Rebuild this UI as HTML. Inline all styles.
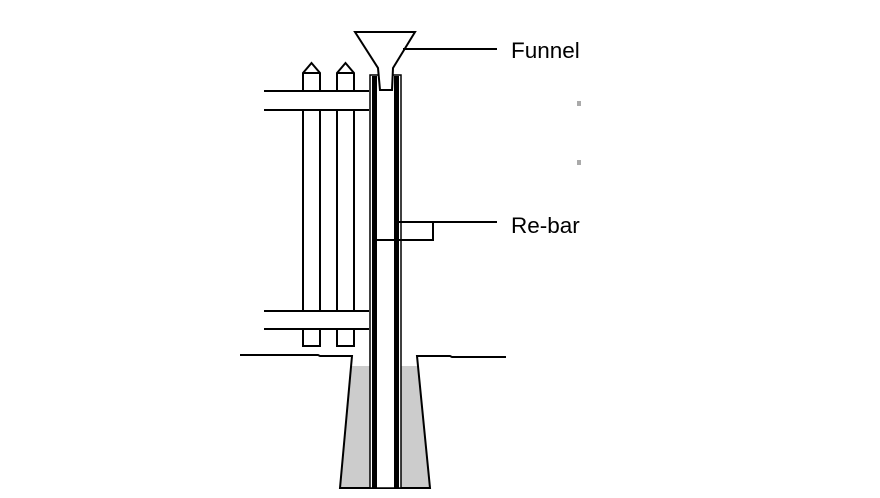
<!DOCTYPE html>
<html><head><style>html,body{margin:0;padding:0;background:#fff;}svg{display:block}</style></head>
<body>
<svg width="880" height="498" viewBox="0 0 880 498" xmlns="http://www.w3.org/2000/svg">
<polygon points="352,366 370,366 370,488 340,488" fill="#cccccc"/>
<polygon points="400,366 418,366 430,488 400,488" fill="#cccccc"/>
<g fill="none" stroke="#000" stroke-width="2">
<polyline points="240,355 318,355 320,356 352,356 340,488 430,488 417,356 450,356 452,357 506,357"/>
<path d="M303,346 V73 L311.5,63 L320,73 V346 Z"/>
<path d="M337,346 V73 L345.5,63 L354,73 V346 Z"/>
<line x1="303" y1="73" x2="320" y2="73"/>
<line x1="337" y1="73" x2="354" y2="73"/>
</g>
<rect x="264" y="91" width="105" height="19" fill="#fff"/>
<rect x="264" y="311" width="105" height="18" fill="#fff"/>
<g stroke="#000" stroke-width="2">
<line x1="264" y1="91" x2="369" y2="91"/>
<line x1="264" y1="110" x2="369" y2="110"/>
<line x1="264" y1="311" x2="369" y2="311"/>
<line x1="264" y1="329" x2="369" y2="329"/>
</g>
<rect x="370" y="75" width="31" height="413" fill="#fff" stroke="#000" stroke-width="1.5"/>
<rect x="372" y="76" width="5" height="412" fill="#000"/>
<rect x="394" y="76" width="5" height="412" fill="#000"/>
<polygon points="355,32 415,32 393,68 392,90 380,90 378,68" fill="#fff" stroke="#000" stroke-width="2"/>
<g fill="none" stroke="#000" stroke-width="2">
<line x1="403" y1="49" x2="497" y2="49"/>
<polyline points="397,222 497,222"/>
<polyline points="397,222 433,222 433,240 377,240"/>
</g>
<text x="511" y="58" font-family="Liberation Sans, sans-serif" font-size="22.5" fill="#000">Funnel</text>
<text x="511" y="233" font-family="Liberation Sans, sans-serif" font-size="22.5" fill="#000">Re-bar</text>
<rect x="577" y="101" width="4" height="5" fill="#aaa"/>
<rect x="577" y="160" width="4" height="5" fill="#aaa"/>
</svg>
</body></html>
